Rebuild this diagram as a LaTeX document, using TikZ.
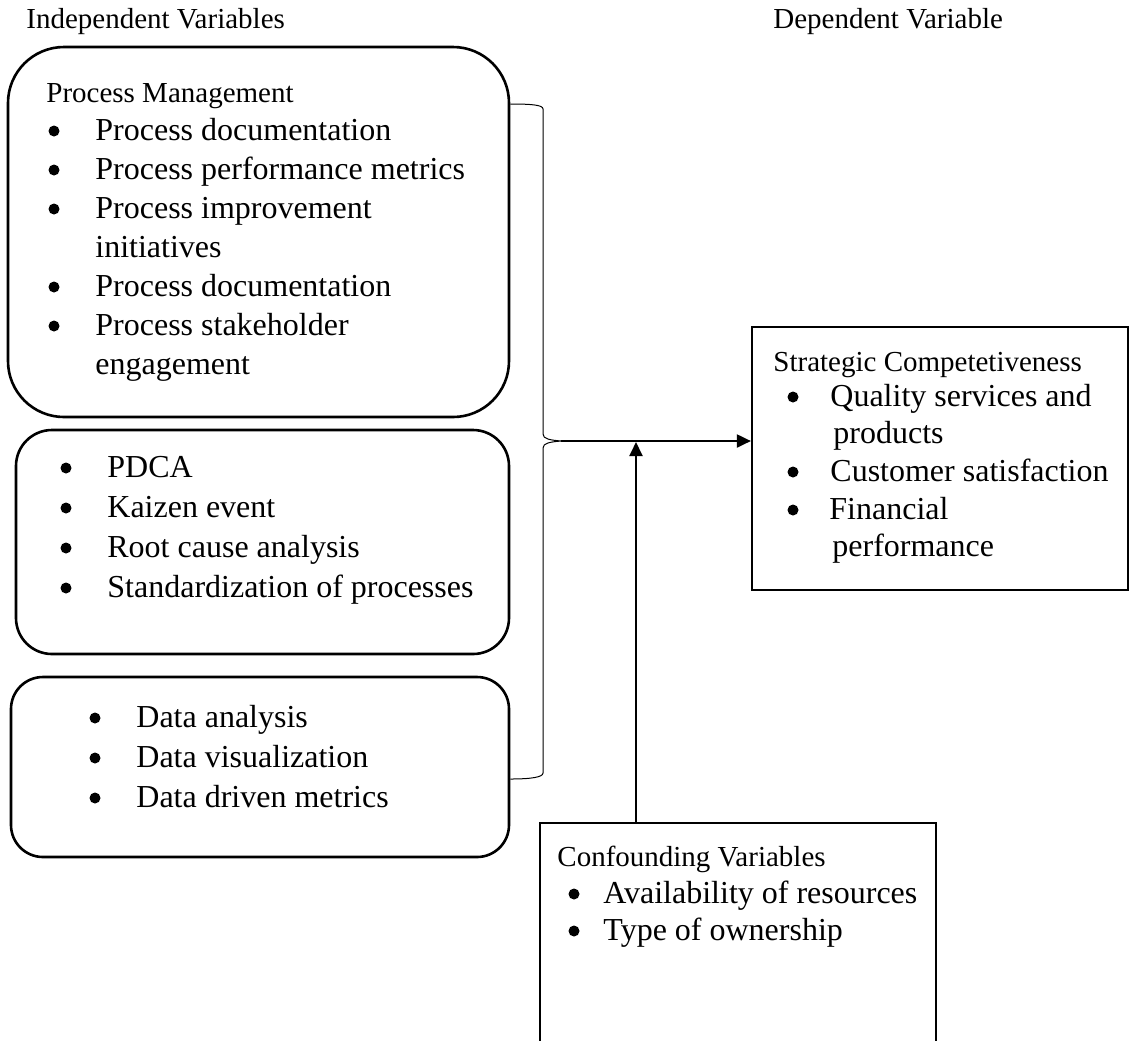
\documentclass[tikz,border=0pt]{standalone}
\usepackage{fontspec}
\setmainfont{Liberation Serif}
\usetikzlibrary{arrows.meta,fit,positioning}

\tikzset{
  rbox/.style={draw, line width=1.3pt, inner sep=0pt},
  sbox/.style={draw, line width=1.1pt, inner sep=0pt},
  lbl/.style={anchor=base west, inner sep=0pt, font=\fontsize{14.5}{17}\selectfont},
  itm/.style={anchor=base west, inner sep=0pt, font=\fontsize{16}{19}\selectfont},
  bul/.style={circle, fill, inner sep=0pt, minimum size=5.5pt, yshift=4.5pt},
  link/.style={line width=1pt, -{Triangle[length=7pt,width=6.5pt]}},
  brc/.style={line width=0.5pt}
}

\begin{document}
\begin{tikzpicture}[x=0.5pt,y=-0.5pt]
\useasboundingbox (0,0) rectangle (1129,1040);

% headings
\node[lbl] (iv) at (26,28) {Independent Variables};
\node[lbl] (dv) at (773,28) {Dependent Variable};

% process management
\node[rbox, rounded corners=28pt, fit={(8,47) (509,417)}] (pm) {};
\node[lbl] (pmt) at (46,102) {Process Management};
\node[bul] (pmb1) at (54,140) {};
\node[itm] (pm1) at (95,140) {Process documentation};
\node[bul] (pmb2) at (54,179) {};
\node[itm] (pm2) at (95,179) {Process performance metrics};
\node[bul] (pmb3) at (54,218) {};
\node[itm] (pm3) at (95,218) {Process improvement};
\node[itm] (pm3b) at (95,257) {initiatives};
\node[bul] (pmb4) at (54,296) {};
\node[itm] (pm4) at (95,296) {Process documentation};
\node[bul] (pmb5) at (54,335) {};
\node[itm] (pm5) at (95,335) {Process stakeholder};
\node[itm] (pm5b) at (95,374) {engagement};

% continuous improvement
\node[rbox, rounded corners=18pt, fit={(16,430) (509,654)}] (ci) {};
\node[bul] (cib1) at (66,477) {};
\node[itm] (ci1) at (107,477) {PDCA};
\node[bul] (cib2) at (66,517) {};
\node[itm] (ci2) at (107,517) {Kaizen event};
\node[bul] (cib3) at (66,557) {};
\node[itm] (ci3) at (107,557) {Root cause analysis};
\node[bul] (cib4) at (66,597) {};
\node[itm] (ci4) at (107,597) {Standardization of processes};

% data analytics
\node[rbox, rounded corners=16pt, fit={(11,677) (509,857)}] (da) {};
\node[bul] (dab1) at (95,727) {};
\node[itm] (da1) at (136,727) {Data analysis};
\node[bul] (dab2) at (95,767) {};
\node[itm] (da2) at (136,767) {Data visualization};
\node[bul] (dab3) at (95,807) {};
\node[itm] (da3) at (136,807) {Data driven metrics};

% strategic competitiveness
\node[sbox, fit={(752,327) (1128,590)}] (sc) {};
\node[lbl] (sct) at (773,371) {Strategic Competetiveness};
\node[bul] (scb1) at (793,406) {};
\node[itm] (sc1) at (830,406) {Quality services and};
\node[itm] (sc1b) at (833,443) {products};
\node[bul] (scb2) at (793,481) {};
\node[itm] (sc2) at (830,481) {Customer satisfaction};
\node[bul] (scb3) at (793,519) {};
\node[itm] (sc3) at (829,519) {Financial};
\node[itm] (sc3b) at (832,556) {performance};

% confounding variables
\node[sbox, fit={(540,823) (936,1045)}] (cv) {};
\node[lbl] (cvt) at (557,866) {Confounding Variables};
\node[bul] (cvb1) at (574,903) {};
\node[itm] (cv1) at (603,903) {Availability of resources};
\node[bul] (cvb2) at (574,940) {};
\node[itm] (cv2) at (603,940) {Type of ownership};

% brace and arrows
\coordinate (tip) at (561,441);
\coordinate (jn) at (636,441);
\draw[brc] (pm.east |- 0,104) .. controls (532,104) and (543,105) .. (543,109)
  -- (543,434) .. controls (543,439) and (550,440) .. (tip)
  .. controls (550,442) and (543,443) .. (543,448)
  -- (543,773) .. controls (543,777) and (532,779) .. (da.east |- 0,779);
\draw[link] (tip) -- (tip -| sc.west);
\draw[link] (cv.north -| jn) -- ([yshift=-0.5pt]jn);
\end{tikzpicture}
\end{document}
